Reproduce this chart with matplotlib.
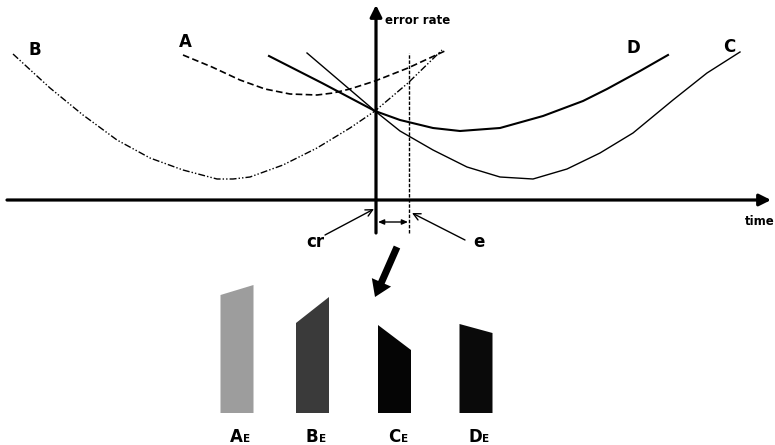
import matplotlib
matplotlib.use("Agg")
import matplotlib.pyplot as plt
from matplotlib.patches import Polygon, FancyArrow

plt.rcParams["font.family"] = ["DejaVu Sans"]

# curves: (time offset from cr, error rate)
curve_a_t = [-193, -164, -136, -111, -86, -59, -43, -26, -1, 32, 71]
curve_a_e = [145, 133, 120, 111, 106, 105, 107, 111, 119, 132, 150]

curve_b_t = [-363, -326, -293, -259, -226, -193, -159, -143, -126, -93, -59, -26, -1, 32, 66]
curve_b_e = [146, 112, 85, 60, 42, 30, 21, 21, 23, 35, 52, 72, 89, 117, 150]

curve_c_t = [-69, -35, -1, 24, 57, 91, 124, 157, 191, 224, 257, 297, 331, 364]
curve_c_e = [147, 118, 89, 69, 50, 33, 23, 21, 31, 47, 67, 100, 127, 148]

curve_d_t = [-107, -54, -1, 24, 57, 84, 124, 167, 207, 231, 264, 292]
curve_d_e = [144, 117, 89, 80, 72, 69, 72, 84, 99, 111, 129, 145]

# curve names and where they sit
curve_names = ["A", "B", "C", "D"]
name_t = [-191, -341, 353, 257]
name_e = [153, 145, 148, 147]

# time of the cr point and of e
t_cr = 0
t_e = 33

# error bars below: error at cr (left edge) and at e (right edge)
bar_names = ["A", "B", "C", "D"]
bar_left = [118, 90, 88, 89]
bar_right = [128, 116, 63, 80]
bar_colors = ["#9d9d9d", "#3a3a3a", "#050505", "#0a0a0a"]
bar_t = [-139, -63.5, 18.5, 100]

fig = plt.figure(figsize=(7.75, 4.45), dpi=100)
ax = fig.add_axes([0, 0, 1, 1])
ax.set_xlim(-376, 399)
ax.set_ylim(-245, 200)
ax.axis("off")

# axes with arrows
ax.annotate("", xy=(395, 0), xytext=(-369, 0),
            arrowprops=dict(arrowstyle="-|>,head_length=0.7,head_width=0.35",
                            lw=2.3, color="black", shrinkA=0, shrinkB=0))
ax.annotate("", xy=(t_cr, 195), xytext=(t_cr, -33),
            arrowprops=dict(arrowstyle="-|>,head_length=0.7,head_width=0.35",
                            lw=2.3, color="black", shrinkA=0, shrinkB=0))
ax.text(9, 176, "error rate", fontsize=8.5, fontweight="bold", va="baseline")
ax.text(384, -25, "time", fontsize=8.5, fontweight="bold", ha="center", va="baseline")

# curves
ax.plot(curve_a_t, curve_a_e, color="black", lw=1.2, ls=(0, (4, 2)))
ax.plot(curve_b_t, curve_b_e, color="black", lw=1.0, ls=(0, (5, 1.5, 1, 1.5, 1, 1.5)))
ax.plot(curve_c_t, curve_c_e, color="black", lw=1.0)
ax.plot(curve_d_t, curve_d_e, color="black", lw=1.5)
for name, t, e in zip(curve_names, name_t, name_e):
    ax.text(t, e, name, fontsize=12, fontweight="bold", ha="center", va="baseline")

# dashed line at e
ax.plot([t_e, t_e], [-33, 147], color="black", lw=1.0, ls=(0, (2.5, 1.2)))

# cr and e pointers
ax.annotate("", xy=(t_cr - 2, -9), xytext=(-51, -35),
            arrowprops=dict(arrowstyle="->,head_length=0.5,head_width=0.25",
                            lw=1.0, color="black", shrinkA=0, shrinkB=0))
ax.annotate("", xy=(t_e + 3, -13), xytext=(89, -40),
            arrowprops=dict(arrowstyle="->,head_length=0.5,head_width=0.25",
                            lw=1.0, color="black", shrinkA=0, shrinkB=0))
ax.annotate("", xy=(t_e - 1, -22), xytext=(t_cr + 2, -22),
            arrowprops=dict(arrowstyle="<|-|>,head_length=0.35,head_width=0.15",
                            lw=1.0, color="black", shrinkA=0, shrinkB=0))
ax.text(-61, -47, "cr", fontsize=12, fontweight="bold", ha="center", va="baseline")
ax.text(103, -47, "e", fontsize=12, fontweight="bold", ha="center", va="baseline")

# big arrow down to the bars
ax.add_patch(FancyArrow(21, -47, -22, -50, width=7, head_width=21,
                        head_length=16, length_includes_head=True,
                        color="black", lw=0))

# bars
base = -213
width = 33
for t, hl, hr, col, name in zip(bar_t, bar_left, bar_right, bar_colors, bar_names):
    pts = [(t - width / 2, base), (t - width / 2, base + hl),
           (t + width / 2, base + hr), (t + width / 2, base)]
    ax.add_patch(Polygon(pts, closed=True, facecolor=col, edgecolor="none"))
    ax.text(t + 6, -242, name, fontsize=12, fontweight="bold", ha="right", va="baseline")
    ax.text(t + 6, -242, "E", fontsize=7.5, fontweight="bold", ha="left", va="baseline")

fig.savefig("out.png", dpi=100, facecolor="white")
